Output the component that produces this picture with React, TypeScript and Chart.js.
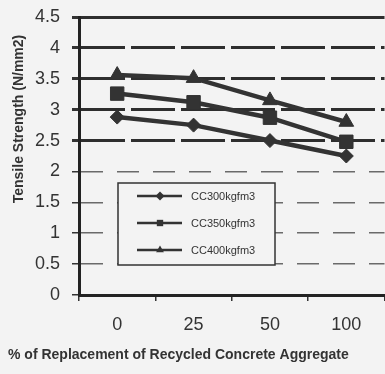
import React, { useEffect, useRef } from "react";
import { Chart, registerables } from "chart.js";

Chart.register(...registerables);

const categories = ["0", "25", "50", "100"];
const cc300 = [2.88, 2.75, 2.5, 2.25];
const cc350 = [3.26, 3.12, 2.87, 2.48];
const cc400 = [3.56, 3.51, 3.15, 2.8];
const seriesLabels = ["CC300kgfm3", "CC350kgfm3", "CC400kgfm3"];
const seriesMarkers = ["rectRot", "rect", "triangle"];
const seriesRadii = [7, 9.5, 8.5];
const yTitle = "Tensile Strength (N/mm2)";
const xTitle = "% of Replacement of Recycled Concrete Aggregate";

const FONT = "'Liberation Sans', Arial, sans-serif";
const INK = "#333333";

function drawMarker(ctx: CanvasRenderingContext2D, style: string, x: number, y: number, r: number) {
  ctx.beginPath();
  if (style === "rectRot") {
    ctx.moveTo(x, y - r);
    ctx.lineTo(x + r, y);
    ctx.lineTo(x, y + r);
    ctx.lineTo(x - r, y);
    ctx.closePath();
  } else if (style === "rect") {
    const s = r * Math.SQRT1_2;
    ctx.rect(x - s, y - s, 2 * s, 2 * s);
  } else {
    ctx.moveTo(x, y - r);
    ctx.lineTo(x + r * 0.87, y + r * 0.5);
    ctx.lineTo(x - r * 0.87, y + r * 0.5);
    ctx.closePath();
  }
  ctx.fill();
}

const bgPlugin = {
  id: "bg",
  beforeDraw(chart: any) {
    const ctx = chart.ctx;
    ctx.save();
    ctx.fillStyle = "#f3f3f3";
    ctx.fillRect(0, 0, chart.width, chart.height);
    ctx.restore();
  },
};

const textPlugin = {
  id: "titles",
  afterDraw(chart: any) {
    const ctx = chart.ctx;
    ctx.save();
    ctx.fillStyle = INK;
    ctx.font = `bold 14px ${FONT}`;
    ctx.textAlign = "center";
    ctx.textBaseline = "middle";
    ctx.translate(19, 119);
    ctx.rotate(-Math.PI / 2);
    ctx.fillText(yTitle, 0, 0);
    ctx.restore();

    ctx.save();
    ctx.fillStyle = INK;
    ctx.font = `bold 14px ${FONT}`;
    ctx.textAlign = "left";
    ctx.textBaseline = "middle";
    ctx.fillText(xTitle, 8, 355);
    ctx.restore();
  },
};

const legendPlugin = {
  id: "boxLegend",
  afterDatasetsDraw(chart: any) {
    const ctx = chart.ctx;
    const x0 = 118, y0 = 183, w = 157, h = 82;
    ctx.save();
    ctx.fillStyle = "#f3f3f3";
    ctx.fillRect(x0, y0, w, h);
    ctx.strokeStyle = INK;
    ctx.lineWidth = 1.5;
    ctx.strokeRect(x0, y0, w, h);
    chart.data.datasets.forEach((ds: any, i: number) => {
      const y = 196 + i * 27;
      ctx.strokeStyle = INK;
      ctx.fillStyle = INK;
      ctx.lineWidth = 2.5;
      ctx.beginPath();
      ctx.moveTo(137, y);
      ctx.lineTo(182, y);
      ctx.stroke();
      drawMarker(ctx, seriesMarkers[i], 160, y, 4.5);
      ctx.font = `11px ${FONT}`;
      ctx.textAlign = "left";
      ctx.textBaseline = "middle";
      ctx.fillText(ds.label, 191, y + 1);
    });
    ctx.restore();
  },
};

export default function App() {
  const ref = useRef<HTMLCanvasElement | null>(null);
  useEffect(() => {
    if (!ref.current) return;
    const series = [cc300, cc350, cc400];
    const chart = new Chart(ref.current, {
      type: "line",
      data: {
        labels: categories,
        datasets: series.map((d, i) => ({
          label: seriesLabels[i],
          data: d,
          borderColor: INK,
          backgroundColor: INK,
          borderWidth: 4.5,
          pointStyle: seriesMarkers[i] as any,
          pointRadius: seriesRadii[i],
          pointBorderWidth: 1,
          pointBackgroundColor: INK,
          pointBorderColor: INK,
          tension: 0,
        })),
      },
      options: {
        animation: false,
        responsive: false,
        maintainAspectRatio: false,
        layout: { padding: { top: 17, left: 0, right: 0, bottom: 0 } },
        plugins: {
          legend: { display: false },
          tooltip: { enabled: false },
        },
        scales: {
          x: {
            type: "category",
            offset: true,
            grid: {
              display: true,
              drawOnChartArea: false,
              drawTicks: true,
              tickLength: 6,
              offset: true,
              color: INK,
              lineWidth: 1.5,
            },
            border: { display: true, color: "#222", width: 3 },
            ticks: {
              color: INK,
              padding: 13,
              font: { family: FONT, size: 18 },
              maxRotation: 0,
            },
            afterFit(scale: any) {
              scale.height = 79;
              scale.paddingLeft = 0;
              scale.paddingRight = 0;
            },
          },
          y: {
            min: 0,
            max: 4.5,
            ticks: {
              stepSize: 0.5,
              color: INK,
              padding: 12,
              font: { family: FONT, size: 18 },
              callback: (v: any) => String(Number(v)),
            },
            grid: {
              drawTicks: true,
              tickLength: 7,
              color: (c: any) => {
                const v = c.tick ? c.tick.value : 0;
                return v >= 2.5 ? "#2e2e2e" : "#6a6a6a";
              },
              lineWidth: (c: any) => {
                const v = c.tick ? c.tick.value : 0;
                return v >= 2.5 ? 3 : 1.5;
              },
              tickColor: INK,
            },
            border: {
              display: true,
              color: "#222",
              width: 3,
              dash: (c: any) => {
                const v = c.tick ? c.tick.value : 0;
                if (v >= 4.5 || v === 0) return [];
                return v >= 2.5 ? [44, 6] : [22, 14];
              },
            },
            afterFit(scale: any) {
              scale.width = 79;
              scale.paddingTop = 0;
              scale.paddingBottom = 0;
            },
          },
        },
      },
      plugins: [bgPlugin, legendPlugin, textPlugin],
    });
    return () => chart.destroy();
  }, []);
  return (
    <div style={{ position: "absolute", left: 0, top: 0, width: 385, height: 374, overflow: "hidden" }}>
      <canvas ref={ref} width={395} height={374} style={{ display: "block" }} />
    </div>
  );
}
